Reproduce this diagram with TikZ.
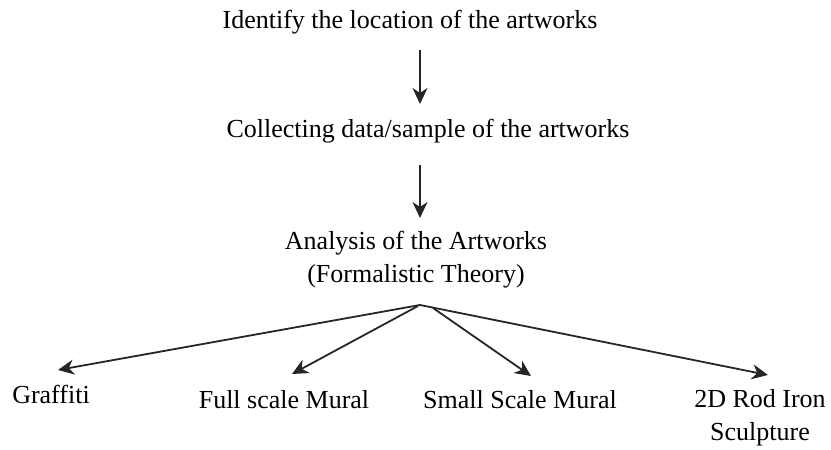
\documentclass[tikz,border=0pt]{standalone}
\usepackage{fontspec}
\setmainfont{Liberation Serif}
\usetikzlibrary{arrows.meta}
\begin{document}
\begin{tikzpicture}[x=1pt,y=-1pt,
  lbl/.style={anchor=base,inner sep=0pt,font=\fontsize{26}{32.5}\selectfont,align=center,text=black},
  arr/.style={line width=1.8pt,draw=black!85,-{Stealth[length=16pt,width=15pt,inset=5pt]}}]
\useasboundingbox (0,0) rectangle (831,450);
\node[lbl] (t1) at (410,28) {Identify the location of the artworks};
\node[lbl] (t2) at (428,137) {Collecting data/sample of the artworks};
\node[lbl] (t3) at (416,282) {Analysis of the Artworks\\(Formalistic Theory)};
\node[lbl] (g) at (51,403) {Graffiti};
\node[lbl] (fs) at (284,408) {Full scale Mural};
\node[lbl] (ss) at (520,408) {Small Scale Mural};
\node[lbl] (rod) at (760,440) {2D Rod Iron\\Sculpture};
\coordinate (a1s) at (420,50);
\coordinate (a1e) at (420,104);
\coordinate (a2s) at (420,165);
\coordinate (a2e) at (420,218);
\coordinate (apex) at (420,305);
\coordinate (apexl) at (418,306);
\coordinate (apexr) at (433,308);
\coordinate (gtip) at (58,370);
\coordinate (fstip) at (292,374);
\coordinate (sstip) at (531,376);
\coordinate (rodtip) at (768,375);
\draw[arr] (a1s) -- (a1e);
\draw[arr] (a2s) -- (a2e);
\draw[arr] (apex) -- (gtip);
\draw[arr] (apexl) -- (fstip);
\draw[arr] (apexr) -- (sstip);
\draw[arr] (apex) -- (rodtip);
\end{tikzpicture}
\end{document}
